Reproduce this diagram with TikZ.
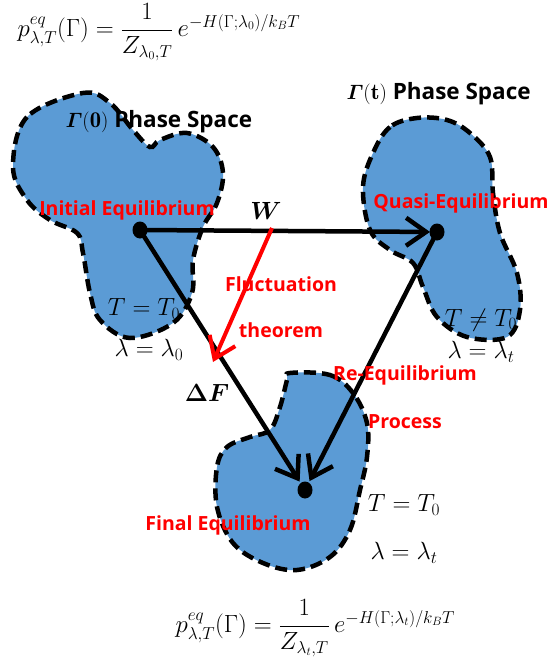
\documentclass[tikz,border=0pt]{standalone}
\usepackage{amsmath}
\usepackage{fontspec}
\setsansfont{Open Sans}
\usetikzlibrary{arrows.meta}
\definecolor{phaseblue}{HTML}{5B9BD5}
\tikzset{
  phase/.style={fill=phaseblue,draw=black,line width=4.5pt,dash pattern=on 12pt off 6pt},
  flow/.style={line width=4.5pt,-{Straight Barb[length=20pt,width=28pt]}},
  redlabel/.style={text=red,font=\sffamily\bfseries\fontsize{19.5}{22}\selectfont},
  spacelabel/.style={font=\sffamily\bfseries\fontsize{22.5}{26}\selectfont},
  mathlabel/.style={font=\fontsize{24}{28}\selectfont}
}
\begin{document}
\begin{tikzpicture}[x=1pt,y=-1pt]
	\useasboundingbox (0,0) rectangle (553,661);
	% phase space regions
	\draw[phase] plot[smooth cycle,tension=0.6] coordinates {(83,93) (27,117) (13,167) (27,200) (50,220) (77,233) (83,253) (90,293) (100,320) (130,338) (173,323) (192,293) (193,260) (203,227) (217,203) (223,173) (213,147) (187,133) (160,140) (150,147) (133,130) (110,103)};
	\draw[phase] plot[smooth cycle,tension=0.6] coordinates {(417,118) (390,127) (373,153) (363,187) (370,230) (390,250) (413,263) (423,287) (437,317) (467,337) (507,337) (520,310) (517,273) (500,233) (493,193) (490,157) (470,133) (447,120)};
	\draw[phase] plot[smooth cycle,tension=0.6] coordinates {(290,373) (330,375) (353,393) (367,423) (367,457) (360,490) (350,530) (330,557) (297,570) (263,563) (233,543) (217,507) (217,467) (227,447) (250,437) (270,430) (280,407) (287,380)};
	% equilibrium states
	\coordinate (init) at (140,230);
	\coordinate (quasi) at (437,232);
	\coordinate (final) at (305,490);
	\coordinate (Wtop) at (272,228);
	\coordinate (dF) at (213,362);
	\draw[flow,shorten >=7pt] (init)--(quasi);
	\draw[flow,shorten >=10pt] (init)--(final);
	\draw[flow,shorten >=10pt] (quasi)--(final);
	\draw[flow,red,line width=4pt] (Wtop)--(dF);
	\foreach \P in {init,quasi,final} \fill[black] (\P) ellipse (7.5pt and 8.5pt);
	% labels
	\node[mathlabel,anchor=west] (topeq) at (14,32) {$p^{eq}_{\lambda,T}(\Gamma)=\dfrac{1}{Z_{\lambda_0,T}}\,e^{-H(\Gamma;\lambda_0)/k_BT}$};
	\node[mathlabel,anchor=west] (boteq) at (172,628) {$p^{eq}_{\lambda,T}(\Gamma)=\dfrac{1}{Z_{\lambda_t,T}}\,e^{-H(\Gamma;\lambda_t)/k_BT}$};
	\node[spacelabel,anchor=west] (space0) at (62,122) {$\boldsymbol{\varGamma}(\mathbf{0})$\ Phase Space};
	\node[spacelabel,anchor=west] (spacet) at (343,94) {$\boldsymbol{\varGamma}(\mathbf{t})$\ Phase Space};
	\node[redlabel] (initlab) at (127,210) {Initial Equilibrium};
	\node[redlabel] (quasilab) at (461,203) {Quasi-Equilibrium};
	\node[redlabel] (finallab) at (228,525) {Final Equilibrium};
	\node[redlabel] (fluct) at (281,284) {Fluctuation};
	\node[redlabel] (theorem) at (281,330) {theorem};
	\node[redlabel] (reeq) at (405,375) {Re-Equilibrium};
	\node[redlabel] (process) at (405,422) {Process};
	\node[mathlabel] (Wlab) at (266,211) {$\boldsymbol{W}$};
	\node[mathlabel] (dFlab) at (207,393) {$\boldsymbol{\Delta F}$};
	\node[mathlabel] (T0) at (144,309) {$T=T_0$};
	\node[mathlabel] (l0) at (149,350) {$\lambda=\lambda_0$};
	\node[mathlabel] (Tq) at (481,320) {$T\neq T_0$};
	\node[mathlabel] (lq) at (481,352) {$\lambda=\lambda_t$};
	\node[mathlabel] (Tf) at (404,505) {$T=T_0$};
	\node[mathlabel] (lf) at (404,553) {$\lambda=\lambda_t$};
\end{tikzpicture}
\end{document}
